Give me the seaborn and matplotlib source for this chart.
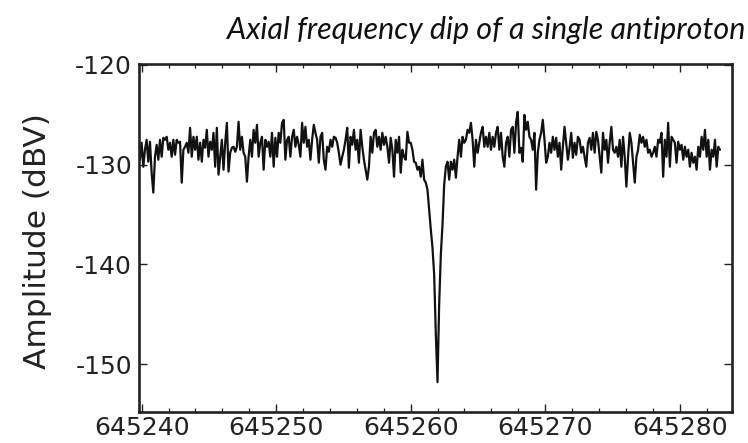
import numpy as np
import pandas as pd
import matplotlib
matplotlib.use("Agg")
import matplotlib.pyplot as plt
import seaborn as sns
from matplotlib.ticker import MultipleLocator

# ---- data ----
f_start = 645239.87
f_end = 645283.0
seg_a = [-129.5, -127.8, -130.2, -128.5, -127.5, -129.7, -127.7, -130.8, -132.8, -129.2,
         -128.0, -129.5, -127.5, -129.2, -127.3, -127.5, -127.2, -128.5, -127.8, -129.2,
         -127.5, -129.0, -127.5, -127.8, -127.7, -131.8, -128.5, -128.2, -127.8, -128.8,
         -126.3, -129.2, -127.2, -128.5, -127.2, -129.5, -127.8, -129.7, -127.5, -128.3,
         -126.5, -129.2, -127.7, -128.5, -126.8, -130.2, -126.3, -131.0, -129.2, -127.5,
         -130.5, -127.8, -125.8, -130.7, -128.8, -128.3, -128.2, -128.7, -128.2, -125.7,
         -128.5, -127.2, -128.8, -129.2, -131.7, -129.2, -127.5, -129.2, -126.5, -127.8,
         -126.0, -129.2, -127.8, -127.2, -130.5, -127.5, -128.2, -127.7, -129.2, -126.8,
         -130.2, -127.3, -129.2, -126.8, -127.8, -125.8, -125.5, -129.5, -127.5, -127.2]
seg_b = [-129.2, -127.2, -126.5, -128.2, -127.2, -128.0, -129.2, -125.8, -127.8, -126.2,
         -128.2, -127.5, -129.5, -127.5, -126.0, -126.8, -127.5, -129.8, -127.2, -126.8,
         -129.5, -130.5, -128.2, -128.7, -127.5, -128.2, -127.2, -127.3, -127.8, -128.8,
         -130.0, -129.2, -128.5, -127.5, -126.3, -130.3, -127.2, -128.0, -126.5, -128.5,
         -127.5, -129.8, -126.5, -128.2, -129.5, -130.5, -131.5, -130.2, -127.2, -128.8,
         -126.8, -126.5, -128.2, -127.2, -128.5, -126.8, -128.0, -127.2, -128.2, -129.8,
         -127.3, -128.5, -131.2, -127.5, -128.8, -127.2, -130.8, -128.5, -129.2, -129.5,
         -126.7, -127.8, -127.8, -128.5, -129.7, -129.8, -130.5, -130.2, -131.2, -129.5,
         -131.5, -131.8, -132.5]
seg_dip = [-134.5, -136.5, -138.3, -141.0, -147.0, -151.8, -144.0, -139.0, -136.0]
seg_c = [-132.0, -130.2, -129.7, -131.5, -129.7, -130.5, -129.5, -131.3, -129.2, -127.5,
         -129.2, -127.2, -127.8, -127.5, -126.5, -126.8, -125.8, -127.5, -130.2, -127.5,
         -128.8, -127.8, -126.8, -126.2, -128.2, -127.2, -128.2, -126.8, -128.5, -127.2,
         -128.2, -126.8, -126.2, -128.5, -126.8, -129.2, -130.2, -127.8, -127.2, -129.2,
         -126.5, -126.2, -128.8, -125.8, -124.7, -128.8, -128.3, -129.7, -125.0, -126.5,
         -125.7, -127.2, -127.5, -128.5, -126.8, -132.5, -128.8, -127.5, -126.8, -125.5,
         -127.5, -129.8, -129.2, -127.8, -128.8, -127.2, -128.5, -127.3, -129.2, -127.8,
         -130.5, -128.2, -126.2, -127.8, -129.5, -128.3, -126.8, -129.3, -127.8, -129.0,
         -127.2, -127.5, -128.8, -128.2, -129.2, -130.2, -127.8, -127.3]
seg_d = [-128.5, -126.8, -128.8, -126.7, -127.5, -129.2, -130.8, -126.8, -128.5, -127.5,
         -129.8, -127.8, -126.2, -128.5, -128.8, -128.2, -129.2, -127.5, -130.2, -127.2,
         -129.2, -132.2, -129.2, -126.8, -127.8, -129.8, -131.8, -129.2, -128.5, -127.0,
         -127.8, -127.2, -128.2, -127.5, -128.8, -128.5, -129.2, -128.8, -128.2, -129.2,
         -127.5, -127.8, -126.8, -131.2, -127.5, -129.2, -125.8, -130.2, -127.2, -127.5,
         -127.8, -129.8, -127.7, -128.5, -128.0, -129.5, -128.2, -129.2, -128.5, -130.2,
         -128.8, -129.8, -129.2, -130.5, -128.2, -129.2, -127.2, -128.5, -126.5, -129.2,
         -127.5, -130.5, -128.5, -129.2, -127.5, -130.2, -128.2, -128.5]

amplitude = seg_a + seg_b + seg_dip + seg_c + seg_d
frequency = np.linspace(f_start, f_end, len(amplitude))
df = pd.DataFrame({"freq": frequency, "amp": amplitude})

x_ticks = [645240, 645250, 645260, 645270, 645280]
y_ticks = [-120, -130, -140, -150]
title_text = "Axial frequency dip of a single antiproton"
y_label = "Amplitude (dBV)"

# ---- plot ----
sns.set_theme(style="white")
plt.rcParams["font.family"] = ["DejaVu Sans"]

W, H = 748, 443
L, R, T, B = 139, 731.7, 64, 412
fig = plt.figure(figsize=(W / 100, H / 100), dpi=100)
ax = fig.add_axes([L / W, 1 - B / H, (R - L) / W, (B - T) / H])

sns.lineplot(data=df, x="freq", y="amp", ax=ax, color="#111111", linewidth=1.6,
             estimator=None, sort=False)

ax.set_xlim(645239.80, 645283.87)
ax.set_ylim(-154.8, -119.9)
ax.set_xticks(x_ticks)
ax.set_xticklabels([str(t) for t in x_ticks])
ax.set_yticks(y_ticks)
ax.set_yticklabels([str(t) for t in y_ticks])
ax.xaxis.set_minor_locator(MultipleLocator(2))
ax.tick_params(which="both", direction="in", top=True, right=True,
               bottom=True, left=True, color="#222222")
ax.tick_params(which="major", length=5.5, width=1.0, labelsize=18,
               labelcolor="#222222")
ax.tick_params(axis="x", which="major", pad=3)
ax.tick_params(axis="y", which="major", pad=5)
ax.tick_params(which="minor", length=3, width=0.9)
for s in ax.spines.values():
    s.set_color("#222222")
    s.set_linewidth(1.9)

ax.set_xlabel("")
ax.set_ylabel(y_label, fontsize=22.5, color="#222222")
ax.yaxis.set_label_coords((52 - L) / (R - L), (B - 241.5) / (B - T))

fig.text(745 / W, 1 - 30 / H, title_text, ha="right", va="center", fontsize=22,
         style="italic", family=["Lato", "DejaVu Sans"], color="#111111")

fig.savefig("out.png", dpi=100)
